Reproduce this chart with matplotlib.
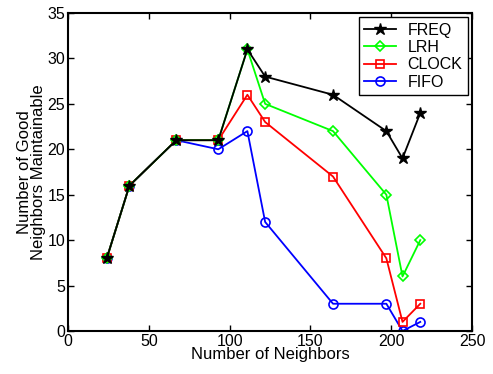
import matplotlib
matplotlib.use("Agg")
import matplotlib.pyplot as plt

plt.rcParams["font.family"] = ["Liberation Sans", "DejaVu Sans"]

# Neighbor counts and maintainable good neighbors per replacement policy
neighbors = [24, 38, 67, 93, 111, 122, 164, 197, 207, 218]
freq = [8, 16, 21, 21, 31, 28, 26, 22, 19, 24]
lrh = [8, 16, 21, 21, 31, 25, 22, 15, 6, 10]
clock = [8, 16, 21, 21, 26, 23, 17, 8, 1, 3]
fifo = [8, 16, 21, 20, 22, 12, 3, 3, 0, 1]

fig = plt.figure(figsize=(4.93, 3.74), dpi=100)
ax = fig.add_axes([68 / 493, 43 / 374, 404 / 493, 318 / 374])

ax.plot(neighbors, freq, color="black", marker="*", ms=9, lw=1.3,
        label="FREQ", zorder=5)
ax.plot(neighbors, lrh, color="#00ff00", marker="D", ms=5.5, mfc="none",
        mew=1.2, lw=1.3, label="LRH", zorder=4)
ax.plot(neighbors, clock, color="red", marker="s", ms=5.5, mfc="none",
        mew=1.2, lw=1.3, label="CLOCK", zorder=3)
ax.plot(neighbors, fifo, color="blue", marker="o", ms=6.5, mfc="none",
        mew=1.2, lw=1.3, label="FIFO", zorder=2)

ax.set_xlim(0, 250)
ax.set_ylim(0, 35)
ax.set_xticks(range(0, 251, 50))
ax.set_yticks(range(0, 36, 5))
ax.tick_params(direction="in", top=True, right=True, labelsize=11.5,
               length=4, width=1, pad=2)
for s in ax.spines.values():
    s.set_linewidth(1.5)

ax.set_xlabel("Number of Neighbors", fontsize=12, labelpad=-1)
ax.set_ylabel("Number of Good\nNeighbors Maintainable", fontsize=12,
              labelpad=1, linespacing=0.95)

leg = ax.legend(loc="upper right", fontsize=11.5, fancybox=False,
                edgecolor="black", framealpha=1, borderaxespad=0.25,
                handlelength=2.0, handletextpad=0.7, labelspacing=0.15,
                borderpad=0.35)
leg.get_frame().set_linewidth(1.0)

fig.savefig("out.png", dpi=100)
